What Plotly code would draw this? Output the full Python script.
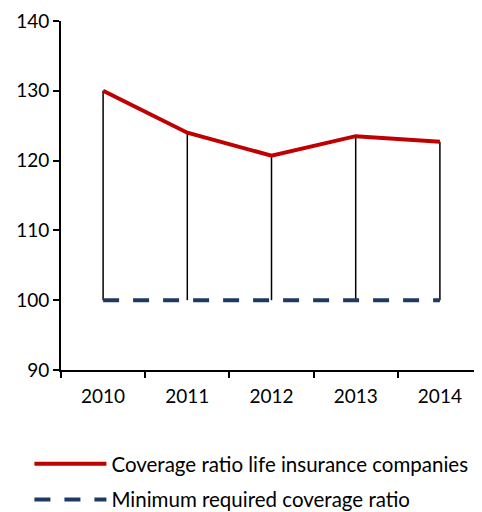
import plotly.graph_objects as go

YEARS = ["2010", "2011", "2012", "2013", "2014"]
COVERAGE = [130.0, 124.0, 120.7, 123.5, 122.7]
MINIMUM = [100, 100, 100, 100, 100]

RED = "#C00000"
NAVY = "#1F3A60"
INK = "#000000"
FONT = "Lato, 'Open Sans', sans-serif"

fig = go.Figure()

# vertical drop lines from each point down to the minimum level
drops = [c - m for c, m in zip(COVERAGE, MINIMUM)]

fig.add_trace(go.Scatter(
    x=YEARS, y=COVERAGE, mode="lines",
    name="Coverage ratio life insurance companies", legendgroup="a",
    line=dict(color=RED, width=4),
    error_y=dict(type="data", symmetric=False, array=[0] * len(drops),
                 arrayminus=drops, color=INK, thickness=1.5, width=0),
))
fig.add_trace(go.Scatter(
    x=YEARS, y=MINIMUM, mode="lines",
    name="Minimum required coverage ratio", legendgroup="b",
    line=dict(color=NAVY, width=4, dash="16px,14px"),
))

# page body adds an 8px margin, so the figure is shifted by 8px
fig.update_layout(
    width=474, height=512,
    margin=dict(t=13, b=150, l=53, r=0),
    paper_bgcolor="white", plot_bgcolor="white",
    font=dict(family=FONT, size=19, color=INK),
    showlegend=True,
    legend=dict(x=-0.075, y=-0.212, xanchor="left", yanchor="top",
                font=dict(size=20.5), traceorder="grouped",
                tracegroupgap=6, itemwidth=72),
)
fig.update_xaxes(
    type="category", range=[-0.5, 4.5], automargin=False,
    showgrid=False, zeroline=False,
    showline=True, linecolor=INK, linewidth=2,
    ticks="outside", tickson="boundaries", ticklen=6, tickwidth=1.5,
    tickcolor=INK, ticklabelstandoff=8,
)
fig.update_yaxes(
    range=[90, 140], dtick=10, automargin=False,
    showgrid=False, zeroline=False,
    showline=True, linecolor=INK, linewidth=2,
    ticks="outside", ticklen=6, tickwidth=1.5, tickcolor=INK,
)

fig.write_html("out.html")
